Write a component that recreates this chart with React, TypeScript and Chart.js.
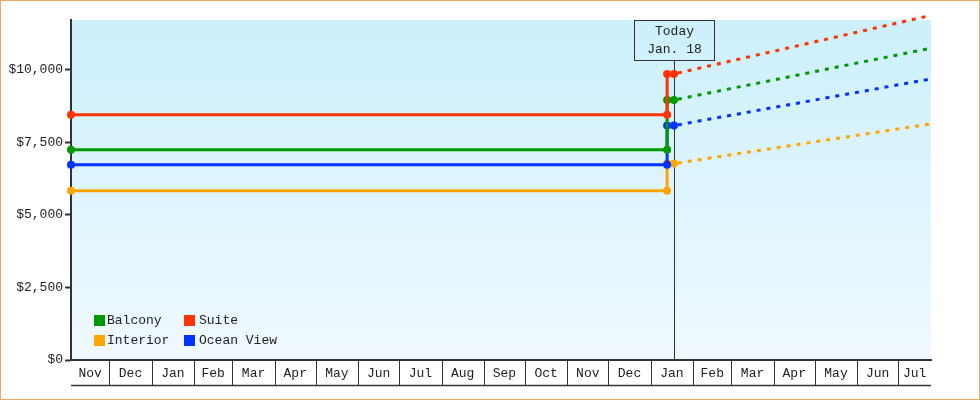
import React, { useEffect, useRef } from 'react';
import { Chart, registerables } from 'chart.js';

Chart.register(...registerables);

// ---- data ----
const startDate = [2016, 11, 3];
const changeDate = [2018, 1, 13];
const todayDate = [2018, 1, 18];
const endDate = [2018, 7, 25];

const monthNames = ['Jan', 'Feb', 'Mar', 'Apr', 'May', 'Jun', 'Jul', 'Aug', 'Sep', 'Oct', 'Nov', 'Dec'];

const seriesNames = ['Suite', 'Balcony', 'Ocean View', 'Interior'];
const seriesColors = ['#ff3300', '#009900', '#0033ff', '#ffa500'];
const pastPrices = [8450, 7250, 6730, 5830];
const currentPrices = [9860, 8960, 8080, 6770];
const projectedPrices = [11880, 10750, 9690, 8140];

const legendOrder = ['Balcony', 'Suite', 'Interior', 'Ocean View'];
const yTicks = [0, 2500, 5000, 7500, 10000];
const yMax = 11720;
const todayLabel = ['Today', 'Jan. 18'];

// ---- helpers ----
const DAY = 86400000;
const toDay = (d: number[]) => Date.UTC(d[0], d[1] - 1, d[2]) / DAY;

const xStart = toDay(startDate);
const xEnd = toDay(endDate);
const xChange = toDay(changeDate);
const xToday = toDay(todayDate);

// month boundaries & cells
const boundaries: number[] = [];
const cellMids: number[] = [];
const cellLabels: string[] = [];
(() => {
  let y = startDate[0];
  let m = startDate[1]; // 1-based
  let cellStart = xStart;
  let cellMonth = m - 1;
  while (true) {
    m += 1;
    if (m > 12) { m = 1; y += 1; }
    const b = Date.UTC(y, m - 1, 1) / DAY;
    if (b >= xEnd) {
      cellMids.push((cellStart + xEnd) / 2);
      cellLabels.push(monthNames[cellMonth]);
      break;
    }
    boundaries.push(b);
    cellMids.push((cellStart + b) / 2);
    cellLabels.push(monthNames[cellMonth]);
    cellStart = b;
    cellMonth = m - 1;
  }
})();

const FONT = "'Liberation Mono', 'DejaVu Sans Mono', monospace";
const INK = '#333333';
const TEXT = '#222222';

const bgPlugin = {
  id: 'bgPlugin',
  beforeDraw(chart: any) {
    const { ctx, chartArea: a, width, height } = chart;
    ctx.save();
    ctx.fillStyle = '#ffffff';
    ctx.fillRect(0, 0, width, height);
    const g = ctx.createLinearGradient(0, a.top, 0, a.bottom);
    g.addColorStop(0, '#ccf0fc');
    g.addColorStop(1, '#f0f9ff');
    ctx.fillStyle = g;
    ctx.fillRect(a.left, a.top, a.right - a.left, a.bottom - a.top);
    ctx.restore();
  },
  beforeDatasetsDraw(chart: any) {
    const { ctx, chartArea: a } = chart;
    const xs = chart.scales.x;
    const x = Math.round(xs.getPixelForValue(xToday)) + 0.5;
    ctx.save();
    ctx.strokeStyle = INK;
    ctx.lineWidth = 1;
    ctx.beginPath();
    ctx.moveTo(x, a.top + 40);
    ctx.lineTo(x, a.bottom);
    ctx.stroke();
    ctx.restore();
  },
  afterDraw(chart: any) {
    const { ctx, chartArea: a, width, height } = chart;
    const xs = chart.scales.x;
    ctx.save();
    // x-axis cells
    ctx.strokeStyle = INK;
    ctx.lineWidth = 1;
    ctx.beginPath();
    boundaries.forEach((b) => {
      const x = Math.round(xs.getPixelForValue(b)) + 0.5;
      ctx.moveTo(x, a.bottom);
      ctx.lineTo(x, a.bottom + 25);
    });
    ctx.stroke();
    ctx.lineWidth = 1.5;
    ctx.beginPath();
    ctx.moveTo(a.left, a.bottom + 25.5);
    ctx.lineTo(a.right, a.bottom + 25.5);
    ctx.stroke();

    // today box
    const tx = Math.round(xs.getPixelForValue(xToday)) + 0.5;
    ctx.lineWidth = 1;
    ctx.strokeStyle = INK;
    ctx.strokeRect(tx - 40, a.top + 0.5, 80, 40);
    ctx.fillStyle = TEXT;
    ctx.font = `13px ${FONT}`;
    ctx.textAlign = 'center';
    ctx.textBaseline = 'middle';
    ctx.fillText(todayLabel[0], tx, a.top + 12);
    ctx.fillText(todayLabel[1], tx, a.top + 30);

    // legend
    const pos = [
      [a.left + 23, a.bottom - 45, 13],
      [a.left + 113, a.bottom - 45, 15],
      [a.left + 23, a.bottom - 25, 13],
      [a.left + 113, a.bottom - 25, 15],
    ];
    ctx.textAlign = 'left';
    legendOrder.forEach((name, i) => {
      const idx = seriesNames.indexOf(name);
      const [bx, by, gap] = pos[i];
      ctx.fillStyle = seriesColors[idx];
      ctx.fillRect(bx, by, 11, 11);
      ctx.fillStyle = TEXT;
      ctx.fillText(name, bx + gap, by + 6);
    });

    // outer border
    ctx.strokeStyle = '#e9aa62';
    ctx.lineWidth = 1;
    ctx.strokeRect(0.5, 0.5, width - 1, height - 1);
    ctx.restore();
  },
};

const datasets: any[] = [];
seriesNames.forEach((name, i) => {
  datasets.push({
    label: name,
    data: [
      { x: xStart, y: pastPrices[i] },
      { x: xChange, y: pastPrices[i] },
      { x: xChange, y: currentPrices[i] },
      { x: xToday, y: currentPrices[i] },
    ],
    borderColor: seriesColors[i],
    backgroundColor: seriesColors[i],
    borderWidth: 3,
    pointRadius: 4,
    pointBorderWidth: 0,
    pointBackgroundColor: seriesColors[i],
    tension: 0,
    clip: false,
  });
});
seriesNames.forEach((name, i) => {
  datasets.push({
    label: name + ' projection',
    data: [
      { x: xToday, y: currentPrices[i] },
      { x: xEnd, y: projectedPrices[i] },
    ],
    borderColor: seriesColors[i],
    backgroundColor: seriesColors[i],
    borderWidth: 3,
    borderDash: [4, 6],
    borderDashOffset: -4,
    pointRadius: 0,
    tension: 0,
    clip: false,
  });
});

export default function App() {
  const ref = useRef<HTMLCanvasElement>(null);
  useEffect(() => {
    document.body.style.margin = '0';
    const chart = new Chart(ref.current as HTMLCanvasElement, {
      type: 'line',
      data: { datasets },
      plugins: [bgPlugin],
      options: {
        animation: false,
        responsive: false,
        devicePixelRatio: 1,
        layout: { padding: { top: 20, right: 49, left: 1, bottom: 0 } },
        plugins: { legend: { display: false }, tooltip: { enabled: false } },
        scales: {
          x: {
            type: 'linear',
            min: xStart,
            max: xEnd,
            afterBuildTicks: (s: any) => {
              s.ticks = cellMids.map((v) => ({ value: v }));
            },
            afterFit: (s: any) => {
              s.height = 40;
            },
            grid: { display: false, drawTicks: false },
            border: { display: true, color: INK, width: 2 },
            ticks: {
              autoSkip: false,
              maxRotation: 0,
              minRotation: 0,
              padding: 6,
              color: TEXT,
              font: { family: FONT, size: 13 },
              callback: (_v: any, i: number) => cellLabels[i],
            },
          },
          y: {
            min: 0,
            max: yMax,
            afterBuildTicks: (s: any) => {
              s.ticks = yTicks.map((v) => ({ value: v }));
            },
            afterFit: (s: any) => {
              s.width = 70;
            },
            grid: { drawOnChartArea: false, drawTicks: true, tickLength: 6, tickWidth: 2, tickColor: INK },
            border: { display: true, color: INK, width: 2 },
            ticks: {
              padding: 2,
              color: TEXT,
              font: { family: FONT, size: 13 },
              callback: (v: any) => '$' + Number(v).toLocaleString('en-US'),
            },
          },
        },
      },
    });
    return () => chart.destroy();
  }, []);
  return (
    <div style={{ width: 980, height: 400 }}>
      <canvas ref={ref} width={980} height={400} style={{ display: 'block' }} />
    </div>
  );
}
